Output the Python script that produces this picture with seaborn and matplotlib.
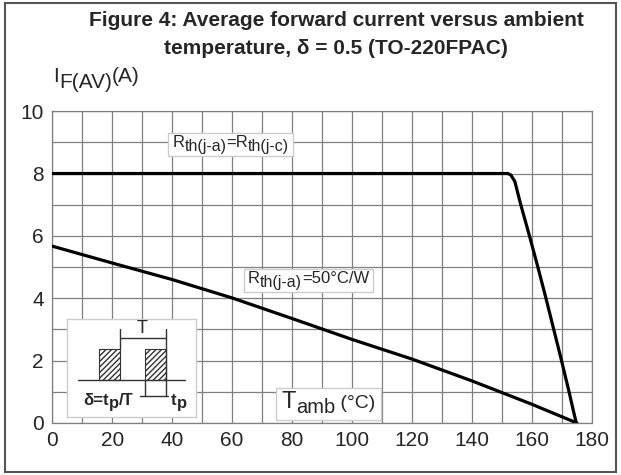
import matplotlib
matplotlib.use("Agg")
import pandas as pd
import matplotlib.pyplot as plt
import seaborn as sns
from matplotlib.patches import Rectangle

# datos
temp_rjc = [0, 152, 153, 154.3, 156.3, 159.2, 162.0, 164.7, 167.3, 169.9, 172.4, 174.8]
curr_rjc = [8, 8, 7.95, 7.75, 7.0, 6.0, 5.0, 4.0, 3.0, 2.0, 1.0, 0.0]
temp_50 = [0, 20, 40, 60, 80, 100, 120, 140, 160, 175]
curr_50 = [5.67, 5.13, 4.6, 4.01, 3.35, 2.68, 2.05, 1.35, 0.6, 0.0]
x_ticks = [0, 20, 40, 60, 80, 100, 120, 140, 160, 180]
y_ticks = [0, 2, 4, 6, 8, 10]

sns.set_style("white")
plt.rcParams['font.family'] = ['Liberation Sans', 'DejaVu Sans']

fig = plt.figure(figsize=(6.21, 4.75), dpi=100)
ax = fig.add_axes([0.0842, 0.1095, 0.953 - 0.0842, 0.766 - 0.1095])

df_rjc = pd.DataFrame({"T": temp_rjc, "I": curr_rjc})
df_50 = pd.DataFrame({"T": temp_50, "I": curr_50})
sns.lineplot(data=df_rjc, x="T", y="I", ax=ax, color="black", lw=2.3,
             sort=False, estimator=None, zorder=5)
sns.lineplot(data=df_50, x="T", y="I", ax=ax, color="black", lw=2.3,
             sort=False, estimator=None, zorder=5)

ax.set_xlim(0, 180)
ax.set_ylim(0, 10)
ax.set_xticks(x_ticks)
ax.set_yticks(y_ticks)
ax.set_xticks(range(0, 181, 10), minor=True)
ax.set_yticks(range(0, 11), minor=True)
ax.grid(which="both", color="#808080", lw=0.9)
ax.set_axisbelow(True)
ax.tick_params(which="both", length=0, labelsize=15, pad=6)
ax.set_xlabel("")
ax.set_ylabel("")
for s in ax.spines.values():
    s.set_color("#808080")
    s.set_linewidth(0.9)

# marco exterior
fig.patches.append(Rectangle((0.008, 0.006), 0.984, 0.988, transform=fig.transFigure,
                             fill=False, edgecolor="#555555", lw=1.5))

fig.text(0.541, 1 - 21 / 475, "Figure 4: Average forward current versus ambient",
         ha="center", va="center", fontsize=15, fontweight="bold")
fig.text(0.541, 1 - 48 / 475, "temperature, \u03b4 = 0.5 (TO-220FPAC)",
         ha="center", va="center", fontsize=15, fontweight="bold")

fig.canvas.draw()
renderer = fig.canvas.get_renderer()


def chain(target, x, y, parts, box=False, pad=4, weight="normal"):
    dx = 0
    arts = []
    for s, size, dy in parts:
        t = target.annotate(s, xy=(x, y), xycoords="data", xytext=(dx, dy),
                            textcoords="offset pixels", ha="left", va="baseline",
                            fontsize=size, fontweight=weight, zorder=8,
                            annotation_clip=False)
        bb = t.get_window_extent(renderer)
        dx += bb.width
        arts.append(bb)
    if box:
        x0 = min(b.x0 for b in arts) - pad
        x1 = max(b.x1 for b in arts) + pad
        y0 = min(b.y0 for b in arts) - pad / 2
        y1 = max(b.y1 for b in arts) + pad / 2
        inv = target.transAxes.inverted()
        (ax0, ay0), (ax1, ay1) = inv.transform([(x0, y0), (x1, y1)])
        target.add_patch(Rectangle((ax0, ay0), ax1 - ax0, ay1 - ay0,
                                   transform=target.transAxes, facecolor="white",
                                   edgecolor="#cccccc", lw=1, zorder=7, clip_on=False))


chain(ax, 0.3, 10.95, [("I", 15, 0), ("F(AV)", 15, -6), ("(A)", 15, 0)])
chain(ax, 40.1, 8.85, [("R", 12, 0), ("th(j-a)", 11.5, -4), ("=R", 12, 0),
                       ("th(j-c)", 11.5, -4)], box=True)
chain(ax, 65.3, 4.5, [("R", 12, 0), ("th(j-a)", 11.5, -4), ("=50\u00b0C/W", 12, 0)],
      box=True)
chain(ax, 76.5, 0.47, [("T", 17, 0), ("amb", 14.5, -5), (" (\u00b0C)", 14, 0)],
      box=True, pad=6)

# recuadro con el esquema del pulso
ins = ax.inset_axes([5, 0.2, 43, 3.15], transform=ax.transData, zorder=6)
ins.set_xlim(0, 129)
ins.set_ylim(0, 98)
ins.set_xticks([])
ins.set_yticks([])
ins.set_facecolor("white")
for s in ins.spines.values():
    s.set_color("#cccccc")
    s.set_linewidth(1)
lc = "#333333"
ins.plot([11, 117.7], [36.3, 36.3], color=lc, lw=1)
for x0 in (32, 78):
    ins.add_patch(Rectangle((x0, 36.3), 20.4, 31.7, facecolor="white",
                            edgecolor=lc, hatch="//////", lw=0.8))
ins.plot([52.4, 52.4], [68, 87.7], color=lc, lw=1)
ins.plot([98.4, 98.4], [20.3, 87.7], color=lc, lw=1)
ins.plot([52.4, 98.4], [78.7, 78.7], color=lc, lw=1)
ins.plot([78, 78], [20.3, 36.3], color=lc, lw=1)
ins.plot([72.7, 101], [20.3, 20.3], color=lc, lw=1)
ins.text(75, 80, "T", ha="center", va="bottom", fontsize=13)
chain(ins, 104, 12, [("t", 12, 0), ("p", 12, -3)], weight="bold")
chain(ins, 16, 12, [("\u03b4=t", 12, 0), ("p", 12, -3), ("/T", 12, 0)], weight="bold")

fig.savefig("out.png", dpi=100)
plt.close(fig)
